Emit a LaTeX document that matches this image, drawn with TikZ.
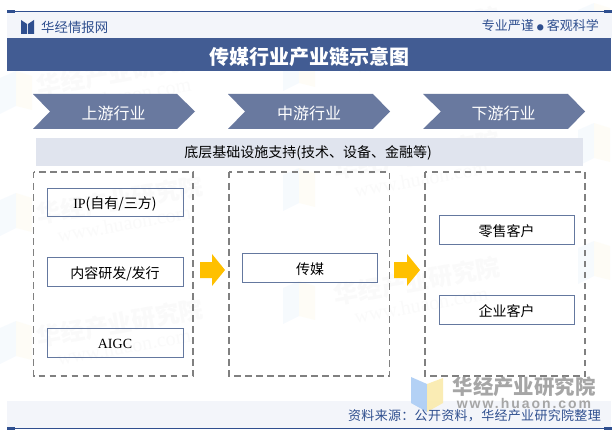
\documentclass[tikz,border=0pt]{standalone}
\usepackage{fontspec}
\setmainfont{Noto Sans CJK SC}
\newfontfamily\latinfont{Liberation Serif}
\newfontfamily\urlfont[LetterSpace=14]{Liberation Sans Bold}
\newcommand{\fs}[1]{\fontsize{#1}{#1}\selectfont}
\newcommand{\dn}[1]{\raisebox{-1.5pt}[\height][\depth]{#1}}
\definecolor{band}{HTML}{425C93}
\definecolor{pale}{HTML}{F3F5FA}
\definecolor{navy}{HTML}{2F4F8F}
\definecolor{chev}{HTML}{69799F}
\definecolor{bar}{HTML}{E0E4EE}
\definecolor{boxline}{HTML}{64789F}
\definecolor{dash}{HTML}{808080}
\definecolor{amber}{HTML}{FFC000}
\definecolor{logoblue}{HTML}{AFCFF5}
\definecolor{logoyellow}{HTML}{FAEBB0}
\definecolor{markgray}{HTML}{A6A6A6}
\newcommand{\wmark}[2]{%
  \node[wmtext,rotate=10] at (#1,#2) {华经产业研究院};
  \node[wmurl,rotate=10] at ($(#1,#2)+(4,24)$) {www.huaon.com};
}
\newcommand{\wlogo}[2]{%
  \begin{scope}[shift={(#1,#2)},opacity=.10]
    \fill[logoblue] (0,0) -- (16,-7) -- (16,28) -- (0,36) -- cycle;
    \fill[logoyellow] (16,-7) -- (32,-2) -- (32,32) -- (16,28) -- cycle;
  \end{scope}
}
\usetikzlibrary{calc}
\tikzset{
  x=1pt,y=-1pt,
  wmtext/.style={text=markgray,opacity=.05,font=\fs{24}\bfseries,inner sep=0},
  wmurl/.style={text=markgray,opacity=.05,font=\fs{20}\latinfont,inner sep=0},
  chevtext/.style={text=white,font=\fs{16},inner sep=0},
  chevshape/.style={fill=chev,draw=none},
  itembox/.style={draw=boxline,line width=1pt,minimum width=136pt,minimum height=28.5pt,inner sep=0,font=\fs{14}},
  dashbox/.style={draw=dash,line width=1.8pt,dash pattern=on 6.5pt off 4.5pt},
  blockarrow/.style={fill=amber,draw=none},
}
\begin{document}
\begin{tikzpicture}
\useasboundingbox (0,0) rectangle (616,433);
\fill[white] (0,0) rectangle (616,433);
% faint watermarks
\wmark{120}{72}\wmark{120}{200}\wmark{120}{323}
\wmark{417}{31}\wmark{417}{155}\wmark{417}{281}
\wlogo{0}{200}\wlogo{0}{328}\wlogo{0}{78}
\wlogo{283}{175}\wlogo{283}{288}\wlogo{283}{55}
\wlogo{578}{248}\wlogo{578}{10}\wlogo{578}{130}
% header
\fill[pale] (7,12) rectangle (612,38);
\fill[band] (7,38) rectangle (611,71);
\fill[pale] (7,401) rectangle (611,428);
\draw[navy,line width=1pt] (7,11.5) -- (612,11.5);
\fill[navy] (7,10) rectangle (15,13);
\fill[navy] (604,10) rectangle (612,13);
\draw[navy,line width=1pt] (7,428.5) -- (612,428.5);
\fill[navy] (7,427) rectangle (15,430);
\fill[navy] (604,427) rectangle (612,430);
\fill[navy] (21,20) -- (27,24) -- (27,34) -- (21,34) -- cycle;
\fill[navy] (34,20) -- (28,24) -- (28,34) -- (34,34) -- cycle;
\node[inner sep=0,anchor=west,text=navy,font=\fs{13.4}] (brand) at (41,27) {华经情报网};
\node[inner sep=0,anchor=east,text=navy,font=\fs{13}] (motto) at (599,26) {专业严谨\hspace{3pt}{\fs{7}●}\hspace{3pt}客观科学};
\node[inner sep=0,text=white,font=\fs{20}\bfseries] (title) at (309.5,56.5) {传媒行业产业链示意图};
% chevrons
\fill[chevshape] (33,94) -- (177,94) -- (195,111.5) -- (177,129) -- (33,129) -- (50,111.5) -- cycle;
\fill[chevshape] (228,94) -- (373,94) -- (390,111.5) -- (373,129) -- (228,129) -- (245,111.5) -- cycle;
\fill[chevshape] (423,94) -- (568,94) -- (585,111.5) -- (568,129) -- (423,129) -- (441,111.5) -- cycle;
\node[chevtext] (up) at (113.5,113) {上游行业};
\node[chevtext] (mid) at (309,113) {中游行业};
\node[chevtext] (down) at (503.5,113) {下游行业};
% support bar
\fill[bar] (36,138) rectangle (583,166);
\node[inner sep=0,font=\fs{14}] (support) at (308,153) {底层基础设施支持(技术、设备、金融等)};
% dashed groups
\draw[dashbox] (33.5,172) rectangle (193,376);
\draw[dashbox] (229,172) rectangle (389.5,376);
\draw[dashbox] (425,172) rectangle (585,376);
% item boxes
\node[itembox] (ip) at (115,202.5) {\dn{\latinfont IP\rmfamily (自有/三方)}};
\node[itembox] (rd) at (115,272) {\dn{内容研发/发行}};
\node[itembox,minimum height=29pt] (aigc) at (115,342.5) {\dn{\latinfont AIGC}};
\node[itembox,minimum width=135.5pt] (media) at (310,268) {\dn{传媒}};
\node[itembox,minimum width=135pt] (retail) at (506.5,230) {\dn{零售客户}};
\node[itembox,minimum width=135pt] (corp) at (506.5,310) {\dn{企业客户}};
% block arrows
\fill[blockarrow] (200,262) -- (212,262) -- (212,254) -- (225,270) -- (212,286) -- (212,278) -- (200,278) -- cycle;
\fill[blockarrow] (394,262) -- (407,262) -- (407,254) -- (420,270) -- (407,286) -- (407,278) -- (394,278) -- cycle;
% bottom-right logo
\fill[logoblue,opacity=.95] (411,377) -- (427,384) -- (427,412) -- (411,403) -- cycle;
\fill[logoyellow,opacity=.95] (427,384) -- (443,378) -- (443,403) -- (427,412) -- cycle;
\node[inner sep=0,text=markgray,font=\fs{20.4}\bfseries] (wm) at (524,387) {华经产业研究院};
\node[inner sep=0,text=markgray,font=\fs{14}\urlfont] (wmu) at (524,403) {www.huaon.com};
\node[inner sep=0,anchor=east,text=navy,font=\fs{13}\addfontfeature{LetterSpace=2.4}] (source) at (601,415.5) {资料来源：公开资料，华经产业研究院整理};
\end{tikzpicture}
\end{document}
